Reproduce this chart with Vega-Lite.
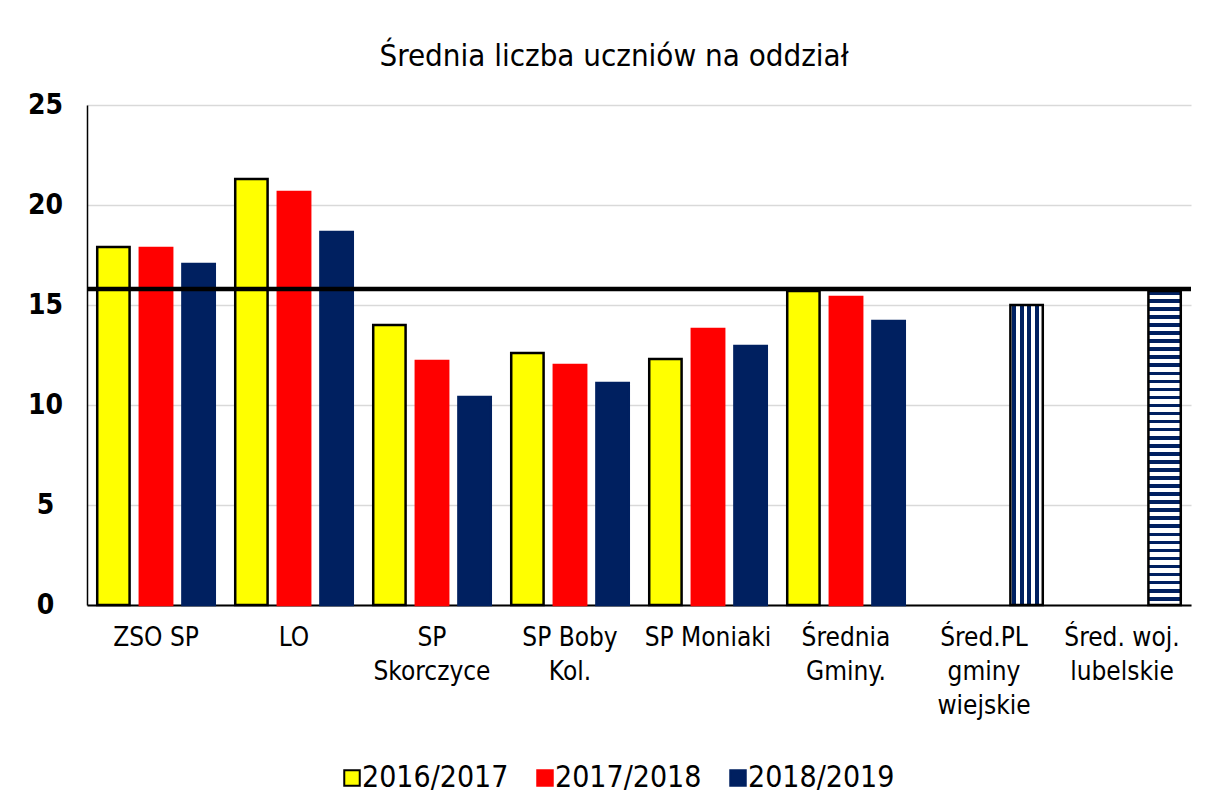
{
  "$schema": "https://vega.github.io/schema/vega-lite/v6.json",
  "width": 1104,
  "height": 500,
  "autosize": "none",
  "padding": {"left": 87, "top": 105, "right": 18, "bottom": 194},
  "background": "white",
  "title": {
    "text": "Średnia liczba uczniów na oddział",
    "fontSize": 31,
    "fontWeight": "normal",
    "font": "'DejaVu Sans Condensed', 'DejaVu Sans'",
    "color": "black",
    "anchor": "middle",
    "dx": -25,
    "offset": 18
  },
  "config": {
    "view": {"stroke": null},
    "font": "'DejaVu Sans Condensed', 'DejaVu Sans'"
  },
  "datasets": {
    "slupki": [
      {"kategoria": "ZSO SP", "rok": "2016/2017", "wartosc": 17.9},
      {"kategoria": "ZSO SP", "rok": "2017/2018", "wartosc": 17.85},
      {"kategoria": "ZSO SP", "rok": "2018/2019", "wartosc": 17.05},
      {"kategoria": "LO", "rok": "2016/2017", "wartosc": 21.3},
      {"kategoria": "LO", "rok": "2017/2018", "wartosc": 20.65},
      {"kategoria": "LO", "rok": "2018/2019", "wartosc": 18.65},
      {"kategoria": "SP Skorczyce", "rok": "2016/2017", "wartosc": 14.0},
      {"kategoria": "SP Skorczyce", "rok": "2017/2018", "wartosc": 12.2},
      {"kategoria": "SP Skorczyce", "rok": "2018/2019", "wartosc": 10.4},
      {"kategoria": "SP Boby Kol.", "rok": "2016/2017", "wartosc": 12.6},
      {"kategoria": "SP Boby Kol.", "rok": "2017/2018", "wartosc": 12.0},
      {"kategoria": "SP Boby Kol.", "rok": "2018/2019", "wartosc": 11.1},
      {"kategoria": "SP Moniaki", "rok": "2016/2017", "wartosc": 12.3},
      {"kategoria": "SP Moniaki", "rok": "2017/2018", "wartosc": 13.8},
      {"kategoria": "SP Moniaki", "rok": "2018/2019", "wartosc": 12.95},
      {"kategoria": "Średnia Gminy.", "rok": "2016/2017", "wartosc": 15.7},
      {"kategoria": "Średnia Gminy.", "rok": "2017/2018", "wartosc": 15.4},
      {"kategoria": "Średnia Gminy.", "rok": "2018/2019", "wartosc": 14.2},
      {"kategoria": "Śred.PL gminy wiejskie", "rok": "2018/2019", "wartosc": 15.0},
      {"kategoria": "Śred. woj. lubelskie", "rok": "2018/2019", "wartosc": 15.7}
    ],
    "linia": [
      {"wartosc": 15.8}
    ]
  },
  "layer": [
    {
      "data": {"name": "slupki"},
      "mark": {"type": "bar", "strokeWidth": 2.5},
      "encoding": {
        "x": {
          "field": "kategoria",
          "type": "nominal",
          "sort": null,
          "scale": {"paddingInner": 0, "paddingOuter": 0},
          "axis": {
            "title": null,
            "labelAngle": 0,
            "labelFontSize": 26,
            "labelColor": "black",
            "labelPadding": 19,
            "labelLineHeight": 34,
            "labelBaseline": "top",
            "labelLimit": 300,
            "ticks": false,
            "domainColor": "black",
            "domainWidth": 2,
            "grid": false,
            "labelExpr": "datum.label == 'SP Skorczyce' ? ['SP','Skorczyce'] : datum.label == 'SP Boby Kol.' ? ['SP Boby','Kol.'] : datum.label == 'Średnia Gminy.' ? ['Średnia','Gminy.'] : datum.label == 'Śred.PL gminy wiejskie' ? ['Śred.PL','gminy','wiejskie'] : datum.label == 'Śred. woj. lubelskie' ? ['Śred. woj.','lubelskie'] : datum.label"
          }
        },
        "xOffset": {
          "field": "rok",
          "type": "nominal",
          "scale": {"domain": ["2016/2017", "2017/2018", "2018/2019"], "paddingInner": 0.24, "paddingOuter": 0.24}
        },
        "y": {
          "field": "wartosc",
          "type": "quantitative",
          "scale": {"domain": [0, 25], "nice": false},
          "axis": {
            "title": null,
            "values": [0, 5, 10, 15, 20, 25],
            "labelFontSize": 28,
            "labelFontWeight": "bold",
            "labelColor": "black",
            "labelAlign": "center",
            "labelBaseline": "middle",
            "labelPadding": 42,
            "ticks": false,
            "domainColor": "black",
            "domainWidth": 1.5,
            "gridColor": "#d9d9d9",
            "gridWidth": 1.5
          }
        },
        "color": {
          "field": "rok",
          "type": "nominal",
          "scale": {"domain": ["2016/2017", "2017/2018", "2018/2019"], "range": ["#ffff00", "#ff0000", "#002060"]},
          "legend": {
            "title": null,
            "orient": "none",
            "direction": "horizontal",
            "legendX": 250,
            "legendY": 658,
            "symbolType": "square",
            "symbolSize": 240,
            "symbolStrokeWidth": 2,
            "labelFontSize": 30,
            "labelColor": "black",
            "labelOffset": -5,
            "columnPadding": 21
          },
          "condition": [
            {
              "test": "datum.kategoria === 'Śred.PL gminy wiejskie'",
              "value": {
                "gradient": "linear", "x1": 0, "x2": 1, "y1": 0, "y2": 0,
                "stops": [
                  {"offset": 0, "color": "#ffffff"}, {"offset": 0.06, "color": "#ffffff"},
                  {"offset": 0.06, "color": "#002060"}, {"offset": 0.18, "color": "#002060"},
                  {"offset": 0.18, "color": "#ffffff"}, {"offset": 0.29, "color": "#ffffff"},
                  {"offset": 0.29, "color": "#002060"}, {"offset": 0.41, "color": "#002060"},
                  {"offset": 0.41, "color": "#ffffff"}, {"offset": 0.52, "color": "#ffffff"},
                  {"offset": 0.52, "color": "#002060"}, {"offset": 0.64, "color": "#002060"},
                  {"offset": 0.64, "color": "#ffffff"}, {"offset": 0.75, "color": "#ffffff"},
                  {"offset": 0.75, "color": "#002060"}, {"offset": 0.87, "color": "#002060"},
                  {"offset": 0.87, "color": "#ffffff"}, {"offset": 1, "color": "#ffffff"}
                ]
              }
            },
            {
              "test": "datum.kategoria === 'Śred. woj. lubelskie'",
              "value": {
                "gradient": "linear", "x1": 0, "x2": 0, "y1": 0, "y2": 1,
                "stops": [
                  {"offset": 0, "color": "#002060"}, {"offset": 0.0115, "color": "#002060"}, {"offset": 0.0115, "color": "#ffffff"}, {"offset": 0.0256, "color": "#ffffff"},
                  {"offset": 0.0256, "color": "#002060"}, {"offset": 0.0372, "color": "#002060"}, {"offset": 0.0372, "color": "#ffffff"}, {"offset": 0.0513, "color": "#ffffff"},
                  {"offset": 0.0513, "color": "#002060"}, {"offset": 0.0628, "color": "#002060"}, {"offset": 0.0628, "color": "#ffffff"}, {"offset": 0.0769, "color": "#ffffff"},
                  {"offset": 0.0769, "color": "#002060"}, {"offset": 0.0885, "color": "#002060"}, {"offset": 0.0885, "color": "#ffffff"}, {"offset": 0.1026, "color": "#ffffff"},
                  {"offset": 0.1026, "color": "#002060"}, {"offset": 0.1141, "color": "#002060"}, {"offset": 0.1141, "color": "#ffffff"}, {"offset": 0.1282, "color": "#ffffff"},
                  {"offset": 0.1282, "color": "#002060"}, {"offset": 0.1397, "color": "#002060"}, {"offset": 0.1397, "color": "#ffffff"}, {"offset": 0.1538, "color": "#ffffff"},
                  {"offset": 0.1538, "color": "#002060"}, {"offset": 0.1654, "color": "#002060"}, {"offset": 0.1654, "color": "#ffffff"}, {"offset": 0.1795, "color": "#ffffff"},
                  {"offset": 0.1795, "color": "#002060"}, {"offset": 0.1910, "color": "#002060"}, {"offset": 0.1910, "color": "#ffffff"}, {"offset": 0.2051, "color": "#ffffff"},
                  {"offset": 0.2051, "color": "#002060"}, {"offset": 0.2167, "color": "#002060"}, {"offset": 0.2167, "color": "#ffffff"}, {"offset": 0.2308, "color": "#ffffff"},
                  {"offset": 0.2308, "color": "#002060"}, {"offset": 0.2423, "color": "#002060"}, {"offset": 0.2423, "color": "#ffffff"}, {"offset": 0.2564, "color": "#ffffff"},
                  {"offset": 0.2564, "color": "#002060"}, {"offset": 0.2679, "color": "#002060"}, {"offset": 0.2679, "color": "#ffffff"}, {"offset": 0.2821, "color": "#ffffff"},
                  {"offset": 0.2821, "color": "#002060"}, {"offset": 0.2936, "color": "#002060"}, {"offset": 0.2936, "color": "#ffffff"}, {"offset": 0.3077, "color": "#ffffff"},
                  {"offset": 0.3077, "color": "#002060"}, {"offset": 0.3192, "color": "#002060"}, {"offset": 0.3192, "color": "#ffffff"}, {"offset": 0.3333, "color": "#ffffff"},
                  {"offset": 0.3333, "color": "#002060"}, {"offset": 0.3449, "color": "#002060"}, {"offset": 0.3449, "color": "#ffffff"}, {"offset": 0.3590, "color": "#ffffff"},
                  {"offset": 0.3590, "color": "#002060"}, {"offset": 0.3705, "color": "#002060"}, {"offset": 0.3705, "color": "#ffffff"}, {"offset": 0.3846, "color": "#ffffff"},
                  {"offset": 0.3846, "color": "#002060"}, {"offset": 0.3962, "color": "#002060"}, {"offset": 0.3962, "color": "#ffffff"}, {"offset": 0.4103, "color": "#ffffff"},
                  {"offset": 0.4103, "color": "#002060"}, {"offset": 0.4218, "color": "#002060"}, {"offset": 0.4218, "color": "#ffffff"}, {"offset": 0.4359, "color": "#ffffff"},
                  {"offset": 0.4359, "color": "#002060"}, {"offset": 0.4474, "color": "#002060"}, {"offset": 0.4474, "color": "#ffffff"}, {"offset": 0.4615, "color": "#ffffff"},
                  {"offset": 0.4615, "color": "#002060"}, {"offset": 0.4731, "color": "#002060"}, {"offset": 0.4731, "color": "#ffffff"}, {"offset": 0.4872, "color": "#ffffff"},
                  {"offset": 0.4872, "color": "#002060"}, {"offset": 0.4987, "color": "#002060"}, {"offset": 0.4987, "color": "#ffffff"}, {"offset": 0.5128, "color": "#ffffff"},
                  {"offset": 0.5128, "color": "#002060"}, {"offset": 0.5244, "color": "#002060"}, {"offset": 0.5244, "color": "#ffffff"}, {"offset": 0.5385, "color": "#ffffff"},
                  {"offset": 0.5385, "color": "#002060"}, {"offset": 0.5500, "color": "#002060"}, {"offset": 0.5500, "color": "#ffffff"}, {"offset": 0.5641, "color": "#ffffff"},
                  {"offset": 0.5641, "color": "#002060"}, {"offset": 0.5756, "color": "#002060"}, {"offset": 0.5756, "color": "#ffffff"}, {"offset": 0.5897, "color": "#ffffff"},
                  {"offset": 0.5897, "color": "#002060"}, {"offset": 0.6013, "color": "#002060"}, {"offset": 0.6013, "color": "#ffffff"}, {"offset": 0.6154, "color": "#ffffff"},
                  {"offset": 0.6154, "color": "#002060"}, {"offset": 0.6269, "color": "#002060"}, {"offset": 0.6269, "color": "#ffffff"}, {"offset": 0.6410, "color": "#ffffff"},
                  {"offset": 0.6410, "color": "#002060"}, {"offset": 0.6526, "color": "#002060"}, {"offset": 0.6526, "color": "#ffffff"}, {"offset": 0.6667, "color": "#ffffff"},
                  {"offset": 0.6667, "color": "#002060"}, {"offset": 0.6782, "color": "#002060"}, {"offset": 0.6782, "color": "#ffffff"}, {"offset": 0.6923, "color": "#ffffff"},
                  {"offset": 0.6923, "color": "#002060"}, {"offset": 0.7038, "color": "#002060"}, {"offset": 0.7038, "color": "#ffffff"}, {"offset": 0.7179, "color": "#ffffff"},
                  {"offset": 0.7179, "color": "#002060"}, {"offset": 0.7295, "color": "#002060"}, {"offset": 0.7295, "color": "#ffffff"}, {"offset": 0.7436, "color": "#ffffff"},
                  {"offset": 0.7436, "color": "#002060"}, {"offset": 0.7551, "color": "#002060"}, {"offset": 0.7551, "color": "#ffffff"}, {"offset": 0.7692, "color": "#ffffff"},
                  {"offset": 0.7692, "color": "#002060"}, {"offset": 0.7808, "color": "#002060"}, {"offset": 0.7808, "color": "#ffffff"}, {"offset": 0.7949, "color": "#ffffff"},
                  {"offset": 0.7949, "color": "#002060"}, {"offset": 0.8064, "color": "#002060"}, {"offset": 0.8064, "color": "#ffffff"}, {"offset": 0.8205, "color": "#ffffff"},
                  {"offset": 0.8205, "color": "#002060"}, {"offset": 0.8321, "color": "#002060"}, {"offset": 0.8321, "color": "#ffffff"}, {"offset": 0.8462, "color": "#ffffff"},
                  {"offset": 0.8462, "color": "#002060"}, {"offset": 0.8577, "color": "#002060"}, {"offset": 0.8577, "color": "#ffffff"}, {"offset": 0.8718, "color": "#ffffff"},
                  {"offset": 0.8718, "color": "#002060"}, {"offset": 0.8833, "color": "#002060"}, {"offset": 0.8833, "color": "#ffffff"}, {"offset": 0.8974, "color": "#ffffff"},
                  {"offset": 0.8974, "color": "#002060"}, {"offset": 0.9090, "color": "#002060"}, {"offset": 0.9090, "color": "#ffffff"}, {"offset": 0.9231, "color": "#ffffff"},
                  {"offset": 0.9231, "color": "#002060"}, {"offset": 0.9346, "color": "#002060"}, {"offset": 0.9346, "color": "#ffffff"}, {"offset": 0.9487, "color": "#ffffff"},
                  {"offset": 0.9487, "color": "#002060"}, {"offset": 0.9603, "color": "#002060"}, {"offset": 0.9603, "color": "#ffffff"}, {"offset": 0.9744, "color": "#ffffff"},
                  {"offset": 0.9744, "color": "#002060"}, {"offset": 0.9859, "color": "#002060"}, {"offset": 0.9859, "color": "#ffffff"}, {"offset": 1, "color": "#ffffff"}
                ]
              }
            }
          ]
        },
        "stroke": {
          "field": "rok",
          "type": "nominal",
          "scale": {"domain": ["2016/2017", "2017/2018", "2018/2019"], "range": ["#000000", "#ff0000", "#002060"]},
          "legend": {
            "title": null,
            "orient": "none",
            "direction": "horizontal",
            "legendX": 250,
            "legendY": 658,
            "symbolType": "square",
            "symbolSize": 240,
            "symbolStrokeWidth": 2,
            "labelFontSize": 30,
            "labelColor": "black",
            "labelOffset": -5,
            "columnPadding": 21
          },
          "condition": {
            "test": "datum.kategoria === 'Śred.PL gminy wiejskie' || datum.kategoria === 'Śred. woj. lubelskie'",
            "value": "#000000"
          }
        }
      }
    },
    {
      "data": {"name": "linia"},
      "mark": {"type": "rule", "color": "black", "strokeWidth": 4.5},
      "encoding": {
        "y": {"field": "wartosc", "type": "quantitative"}
      }
    }
  ]
}
